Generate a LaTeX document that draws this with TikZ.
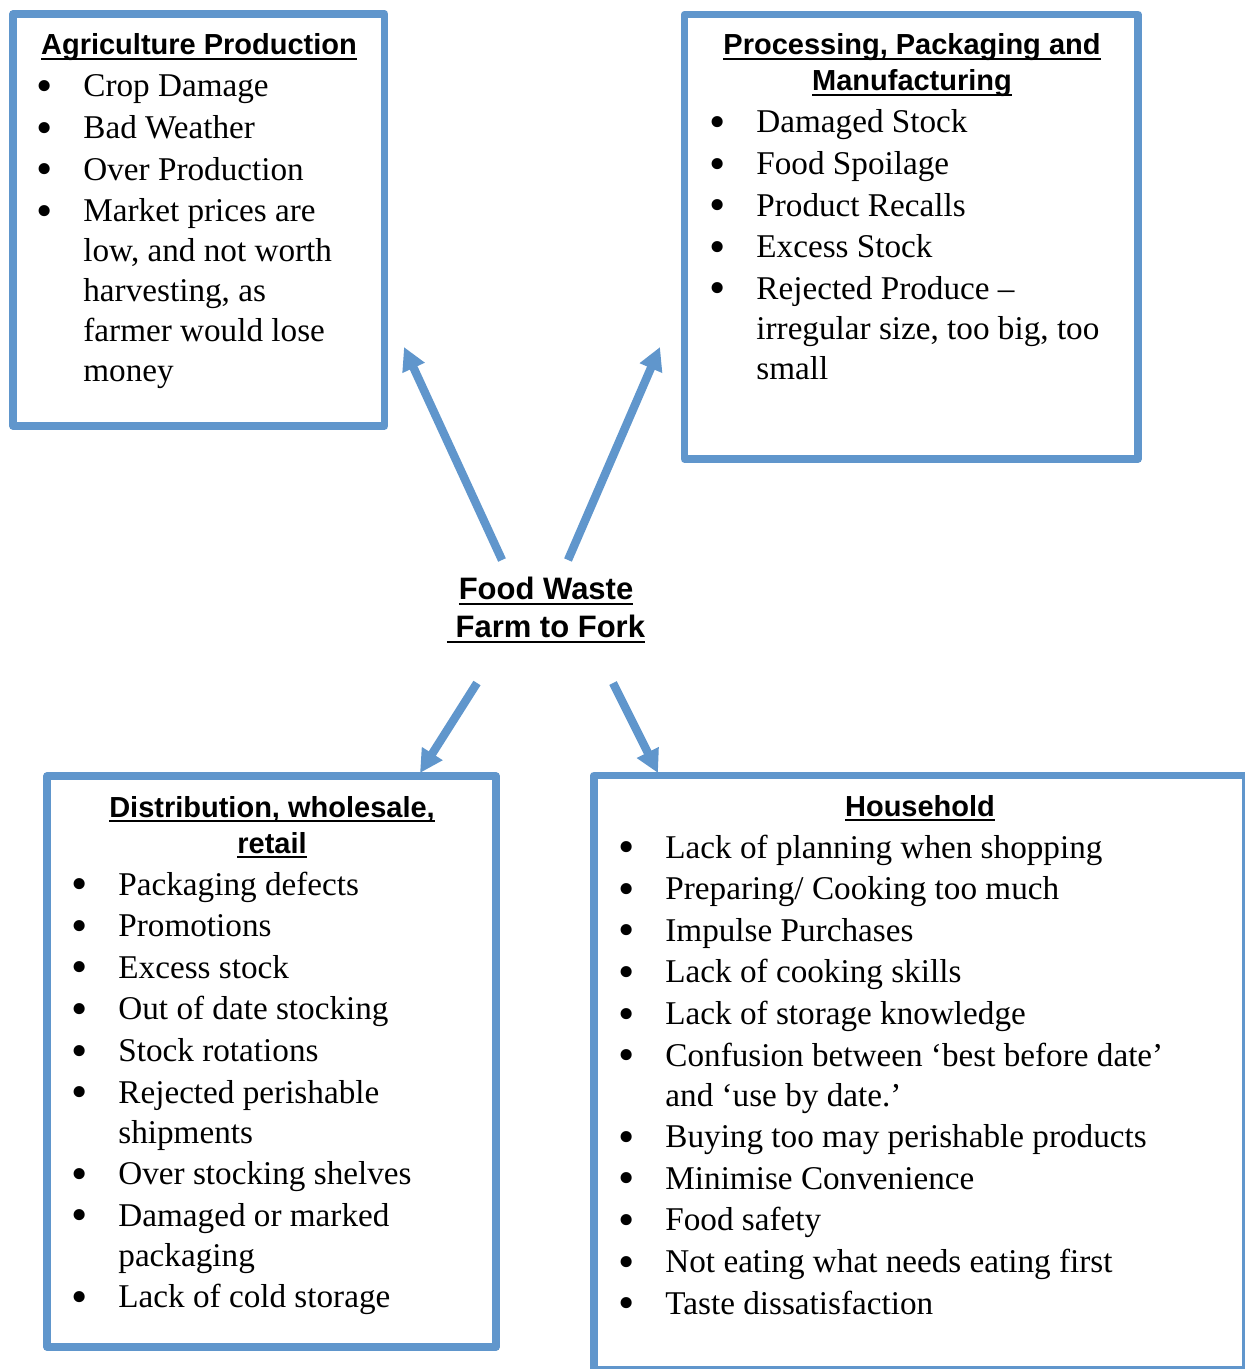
\documentclass[tikz,border=0pt]{standalone}
\usepackage{fontspec}
\setmainfont{Liberation Serif}
\newfontfamily\headfont{Liberation Sans}
\usetikzlibrary{arrows.meta}
\definecolor{boxblue}{RGB}{96,150,204}
% underlined heading text
\newcommand{\hdul}[2][2.6pt]{\setbox0\hbox{#2}\rlap{\rule[-#1]{\wd0}{0.9pt}}\box0}
% bullet list set as a table, first row on the node baseline
\newcommand{\blist}[1]{\fontsize{16.6}{20}\selectfont\begin{tabular}[t]{@{}p{23.5pt}@{}l@{}}#1\end{tabular}}
\newcommand{\bi}{\raisebox{-2.3pt}{\scalebox{1.4}{\textbullet}} &}
\tikzset{
  boxline/.style={draw=boxblue, line width=3.7pt, line join=round},
  flow/.style={draw=boxblue, line width=4.2pt, -{Triangle[length=11.5pt,width=11.5pt]}},
  head/.style={inner sep=0, font=\headfont\bfseries\fontsize{14.5}{18}\selectfont},
  title/.style={inner sep=0, font=\headfont\bfseries\fontsize{15.5}{19}\selectfont},
  lst/.style={inner sep=0, anchor=base west}
}
\begin{document}
\begin{tikzpicture}[x=0.5pt, y=-0.5pt]
\useasboundingbox (0,0) rectangle (1245,1369);
% boxes
\draw[boxline] (13,14) rectangle (384.5,426);
\draw[boxline] (684.5,14.5) rectangle (1138,459);
\draw[boxline] (47,776) rectangle (496,1347);
\draw[boxline] (594,775.5) rectangle (1245.5,1370);
% headings
\node[head, anchor=base] (agrihd) at (199,55) {\hdul{Agriculture Production}};
\node[head, anchor=base] (prochd) at (912,55) {\begin{tabular}[t]{@{}c@{}}\hdul{Processing, Packaging and}\\ \hdul{Manufacturing}\end{tabular}};
\node[head, anchor=base] (disthd) at (272,817) {\begin{tabular}[t]{@{}c@{}}\hdul{Distribution, wholesale,}\\ \hdul{retail}\end{tabular}};
\node[head, anchor=base] (househd) at (920,816) {\hdul{Household}};
% lists
\node[lst] (agrilist) at (36,97) {\blist{\bi Crop Damage\\[0.8pt] \bi Bad Weather\\[0.8pt] \bi Over Production\\[0.8pt]
  \bi Market prices are\\ & low, and not worth\\ & harvesting, as\\ & farmer would lose\\ & money}};
\node[lst] (proclist) at (709,133) {\blist{\bi Damaged Stock\\[0.8pt] \bi Food Spoilage\\[0.8pt] \bi Product Recalls\\[0.8pt]
  \bi Excess Stock\\[0.8pt] \bi Rejected Produce --\\ & irregular size, too big, too\\ & small}};
\node[lst] (distlist) at (71,895) {\blist{\bi Packaging defects\\[0.8pt] \bi Promotions\\[0.8pt] \bi Excess stock\\[0.8pt]
  \bi Out of date stocking\\[0.8pt] \bi Stock rotations\\[0.8pt] \bi Rejected perishable\\ & shipments\\[0.8pt]
  \bi Over stocking shelves\\[0.8pt] \bi Damaged or marked\\ & packaging\\[0.8pt] \bi Lack of cold storage}};
\node[lst] (houselist) at (618,858) {\blist{\bi Lack of planning when shopping\\[0.8pt] \bi Preparing/ Cooking too much\\[0.8pt]
  \bi Impulse Purchases\\[0.8pt] \bi Lack of cooking skills\\[0.8pt] \bi Lack of storage knowledge\\[0.8pt]
  \bi Confusion between ‘best before date’\\ & and ‘use by date.’\\[0.8pt] \bi Buying too may perishable products\\[0.8pt]
  \bi Minimise Convenience\\[0.8pt] \bi Food safety\\[0.8pt] \bi Not eating what needs eating first\\[0.8pt]
  \bi Taste dissatisfaction}};
% centre
\node[title, anchor=base] (fw) at (546,599) {\begin{tabular}[t]{@{}c@{}}\hdul[3pt]{Food Waste}\\ \hdul[3pt]{\ Farm to Fork}\end{tabular}};
% arrows
\coordinate (agrit) at (502,560); \coordinate (agrih) at (404,347);
\coordinate (proct) at (568,560); \coordinate (proch) at (660,347);
\coordinate (distt) at (477,683); \coordinate (disth) at (420,773);
\coordinate (houset) at (613,683); \coordinate (househ) at (658,773);
\draw[flow] (agrit) -- (agrih);
\draw[flow] (proct) -- (proch);
\draw[flow] (distt) -- (disth);
\draw[flow] (houset) -- (househ);
\end{tikzpicture}
\end{document}
